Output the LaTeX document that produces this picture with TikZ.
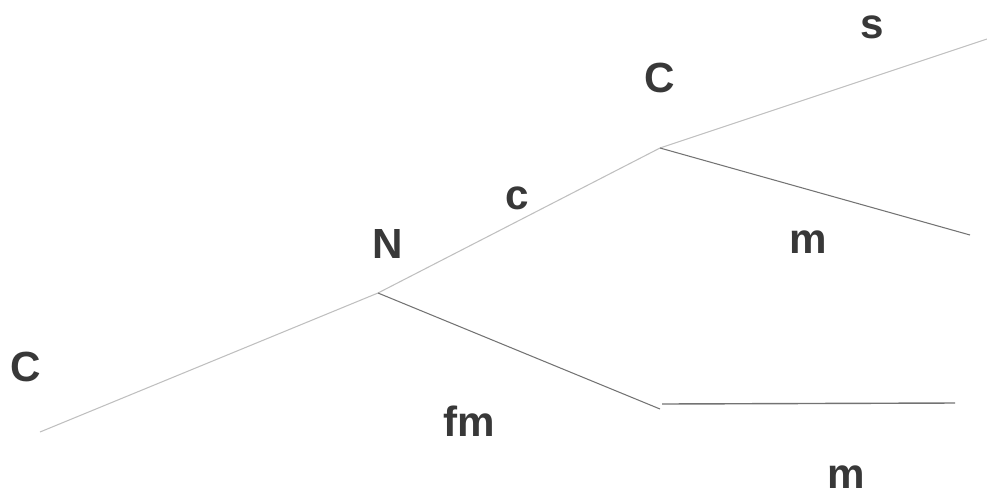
\documentclass[tikz,border=0pt]{standalone}
\usepackage{fontspec}
\setmainfont{Liberation Sans}
\begin{document}
\begin{tikzpicture}[x=0.02cm,y=-0.02cm,
  lbl/.style={font=\fontsize{24}{26}\selectfont\bfseries, text=black!78, inner sep=0pt},
  edge/.style={draw=black!55, line width=0.6pt},
  faint/.style={draw=black!25, line width=0.6pt}]
\useasboundingbox (0,0) rectangle (987,498);
\coordinate (a) at (40,432);
\coordinate (n) at (378,293);
\coordinate (c) at (660,148);
\coordinate (s) at (987,39);
\coordinate (mu) at (970,235);
\coordinate (b) at (660,409);
\coordinate (b2) at (662,404);
\coordinate (ml) at (955,403);
\draw[faint] (a) -- (n);
\draw[faint] (n) -- (c);
\draw[faint] (c) -- (s);
\draw[edge] (c) -- (mu);
\draw[edge] (n) -- (b);
\draw[edge,line width=0.8pt] (b2) -- (ml);
\node[lbl] (lc) at (26,367) {C};
\node[lbl] (ln) at (388,244) {N};
\node[lbl] (lcs) at (517,198) {c};
\node[lbl] (lcu) at (660,78) {C};
\node[lbl] (ls) at (872,27) {s};
\node[lbl] (lmu) at (808,242) {m};
\node[lbl] (lfm) at (469,421) {fm};
\node[lbl] (lml) at (846,477) {m};
\end{tikzpicture}
\end{document}
